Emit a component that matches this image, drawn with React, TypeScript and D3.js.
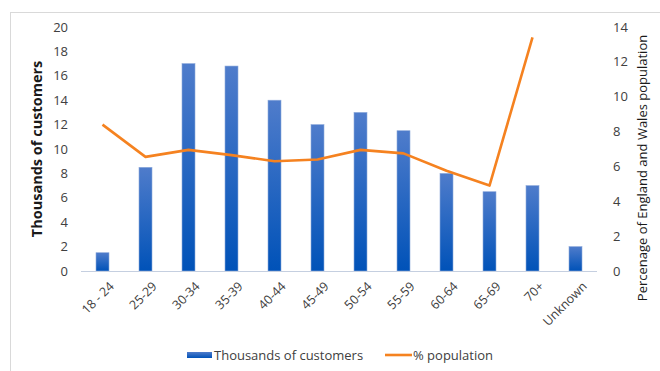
import React from "react";
import * as d3 from "d3";

const categories = ["18 - 24", "25-29", "30-34", "35-39", "40-44", "45-49", "50-54", "55-59", "60-64", "65-69", "70+", "Unknown"];
const customers = [1.5, 8.5, 17, 16.8, 14, 12, 13, 11.5, 8, 6.5, 7, 2];
const populationPct: (number | null)[] = [8.4, 6.55, 6.95, 6.65, 6.3, 6.4, 6.95, 6.75, 5.75, 4.9, 13.4, null];
const leftTicks = [0, 2, 4, 6, 8, 10, 12, 14, 16, 18, 20];
const rightTicks = [0, 2, 4, 6, 8, 10, 12, 14];

const FONT = "'Open Sans', 'Noto Sans', sans-serif";

export default function App() {
  const W = 660, H = 371;
  const left = 81, right = 597, top = 27, bottom = 271;
  const x = d3.scaleBand<string>().domain(categories).range([left, right]).paddingInner(0).paddingOuter(0);
  const yL = d3.scaleLinear().domain([0, 20]).range([bottom, top]);
  const yR = d3.scaleLinear().domain([0, 14]).range([bottom, top]);
  const barW = 13;
  const cx = (c: string) => (x(c) as number) + x.bandwidth() / 2;

  const linePts = categories
    .map((c, i) => ({ c, v: populationPct[i] }))
    .filter((d) => d.v !== null) as { c: string; v: number }[];
  const line = d3.line<{ c: string; v: number }>().x((d) => cx(d.c)).y((d) => yR(d.v));

  return (
    <svg width={W} height={H} style={{ position: "absolute", left: 0, top: 0, fontFamily: FONT }}>
      <defs>
        <linearGradient id="barGrad" x1="0" y1="0" x2="0" y2="1">
          <stop offset="0%" stopColor="#4f7ccb" />
          <stop offset="100%" stopColor="#0052b8" />
        </linearGradient>
      </defs>
      <rect x={0} y={0} width={W} height={H} fill="#fff" />
      <rect x={10.5} y={12.5} width={700} height={400} fill="none" stroke="#d9d9d9" strokeWidth={1} />

      {/* left axis tick labels */}
      {leftTicks.map((t) => (
        <text key={"l" + t} x={68} y={yL(t)} dy="0.35em" textAnchor="end" fontSize={13} fill="#404040">{t}</text>
      ))}
      {/* right axis tick labels */}
      {rightTicks.map((t) => (
        <text key={"r" + t} x={613} y={yR(t)} dy="0.35em" textAnchor="start" fontSize={13} fill="#404040">{t}</text>
      ))}

      {/* axis titles */}
      <text transform={`translate(42,${(top + bottom) / 2}) rotate(-90)`} textAnchor="middle" fontSize={14.5} fontWeight="bold" fill="#1a1a1a">Thousands of customers</text>
      <text transform={`translate(647,168) rotate(-90)`} textAnchor="middle" fontSize={13} fill="#1a1a1a">Percenage of England and Wales population</text>

      {/* bars */}
      {categories.map((c, i) => (
        <rect key={c} x={cx(c) - barW / 2} y={yL(customers[i])} width={barW} height={bottom - yL(customers[i])}
          fill="url(#barGrad)" stroke="#8eaadb" strokeWidth={0.6} />
      ))}

      {/* baseline */}
      <line x1={left} x2={right} y1={bottom + 0.5} y2={bottom + 0.5} stroke="#c5cfe0" strokeWidth={1} />

      {/* line series */}
      <path d={line(linePts) || ""} fill="none" stroke="#f58220" strokeWidth={2.6} strokeLinejoin="round" />

      {/* x labels */}
      {categories.map((c) => (
        <text key={"x" + c} transform={`translate(${cx(c) + 6},${bottom + 10}) rotate(-45)`} textAnchor="end" dy="0.7em" fontSize={12.5} fill="#404040">{c}</text>
      ))}

      {/* legend */}
      <rect x={187} y={352} width={25} height={6} fill="url(#barGrad)" />
      <text x={214} y={355} dy="0.35em" fontSize={13} fill="#404040">Thousands of customers</text>
      <line x1={385} x2={412} y1={355} y2={355} stroke="#f58220" strokeWidth={2.6} />
      <text x={413} y={355} dy="0.35em" fontSize={13} fill="#404040">% population</text>
    </svg>
  );
}
